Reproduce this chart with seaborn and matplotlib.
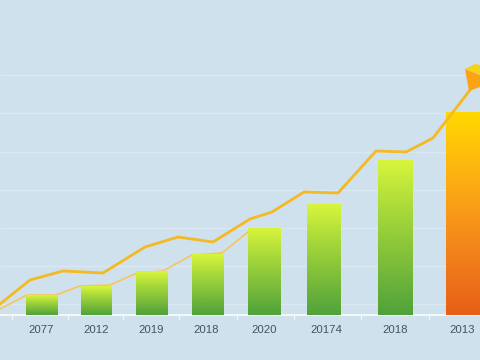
import numpy as np
import pandas as pd
import matplotlib
matplotlib.use("Agg")
import matplotlib.pyplot as plt
from matplotlib.colors import LinearSegmentedColormap
from matplotlib.patches import Polygon
import seaborn as sns

# (values are heights above the baseline)
labels = ["2077", "2012", "2019", "2018", "2020", "20174", "2018", "2013"]
bar_values = [20, 29, 44, 61, 87, 111, 155, 203]
bar_left = [26, 81, 136, 192, 248, 307, 378, 446]
bar_right = [58, 112, 168, 224, 281, 341, 413, 481]
label_x = [41, 96, 151, 206, 264, 326, 395, 462]
tick_x = [12, 68, 123, 179, 237, 294, 361, 429]
grid_values = [11, 49, 87, 125, 163, 202, 240]

upper_x = [0, 30, 63, 103, 145, 178, 213, 250, 272, 304, 338, 376, 406, 433, 470]
upper_y = [11, 35, 44, 42, 68, 78, 73, 96, 103, 123, 122, 164, 163, 177, 225]
lower_x = [0, 27, 56, 80, 110, 137, 163, 192, 222, 248]
lower_y = [6, 20, 20, 29, 30, 42, 44, 60, 62, 83]

BG = "#cfe1ec"
sns.set_theme(style="white", rc={"axes.facecolor": BG, "figure.facecolor": BG})
plt.rcParams["font.family"] = ["Liberation Sans", "DejaVu Sans"]

fig = plt.figure(figsize=(4.8, 3.6), dpi=100)
ax = fig.add_axes([0, 0, 1, 1])

df = pd.DataFrame({"i": range(len(labels)), "v": bar_values})
sns.barplot(data=df, x="i", y="v", ax=ax, order=list(df["i"]), color="#88c040", saturation=1, zorder=3)

for s in ax.spines.values():
    s.set_visible(False)
ax.set_xlabel("")
ax.set_ylabel("")
ax.set_yticks([])
ax.set_xticks([])
ax.grid(False)

green = LinearSegmentedColormap.from_list("g", ["#d8f53c", "#a6d83a", "#7dbd3a", "#4fa23a"])
orange = LinearSegmentedColormap.from_list("o", ["#ffd800", "#fdae14", "#f4851c", "#e75f18"])
for k, (p, l, r, v) in enumerate(zip(ax.patches, bar_left, bar_right, bar_values)):
    p.set_x(l)
    p.set_width(r - l)
    p.set_edgecolor("none")
    cmap = orange if k == len(bar_values) - 1 else green
    im = ax.imshow(np.linspace(0, 1, 128).reshape(-1, 1), cmap=cmap, aspect="auto",
                   extent=[l, r, 0, v], origin="upper", zorder=3)
    im.set_clip_path(p)
ax.set_xlim(0, 480)
ax.set_ylim(-45, 315)

for g in grid_values:
    ax.axhline(g, color="#dae8f1", lw=1, zorder=1)
ax.axhline(0, color="#f2f7fa", lw=1.5, zorder=2)
for t in tick_x:
    ax.plot([t, t], [0, -4], color="#f2f7fa", lw=0.8, zorder=2)
for x, s in zip(label_x, labels):
    ax.text(x, -15, s, ha="center", va="center", fontsize=8.2, color="#46525f")

sns.lineplot(x=lower_x, y=lower_y, sort=False, ax=ax, color="#f5c660", lw=1.2, zorder=2.5, legend=False)
sns.lineplot(x=upper_x, y=upper_y, sort=False, ax=ax, color="#f5b921", lw=2.0, zorder=4, legend=False)

ax.add_patch(Polygon([(465, 246), (480, 240), (480, 228), (469, 224)], closed=True, fc="#fca313", ec="none", zorder=5))
ax.add_patch(Polygon([(465, 246), (475, 251), (480, 250), (480, 240)], closed=True, fc="#f5d21c", ec="none", zorder=5.1))

fig.savefig("out.png", dpi=100)
